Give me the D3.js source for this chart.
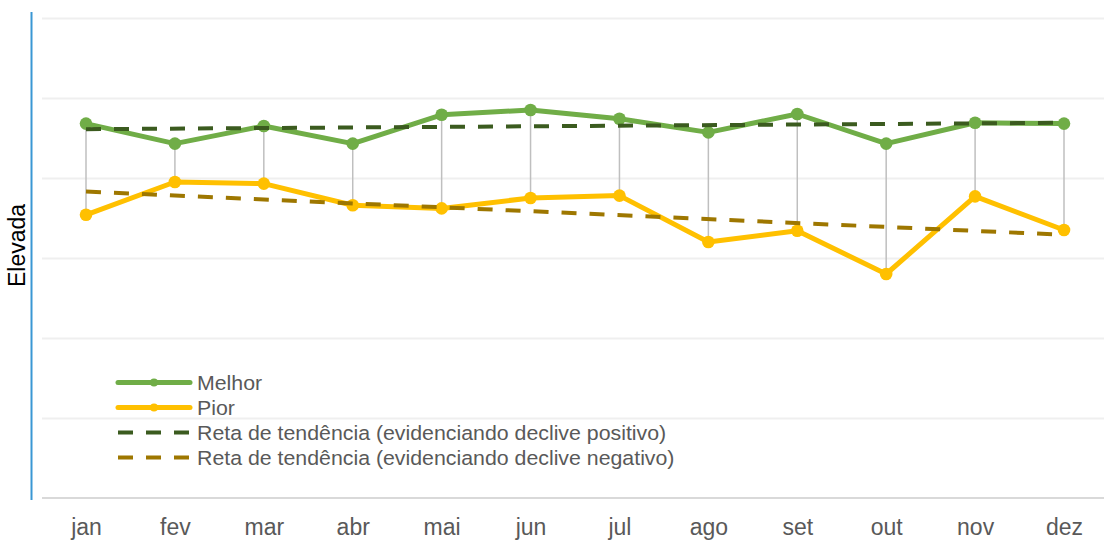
<!DOCTYPE html>
<html>
<head>
<meta charset="utf-8">
<script src="https://cdn.jsdelivr.net/npm/d3@7"></script>
<style>
  body { margin: 0; background: #fff; }
  svg { display: block; font-family: "Liberation Sans", Arial, sans-serif; }
</style>
</head>
<body>
<div id="chart"></div>
<script>
// months on the x axis
const months = ['jan', 'fev', 'mar', 'abr', 'mai', 'jun', 'jul', 'ago', 'set', 'out', 'nov', 'dez'];
// series values (axis has no numbers, 0..6 grid units)
const melhor = [4.68, 4.43, 4.65, 4.43, 4.79, 4.85, 4.74, 4.57, 4.80, 4.43, 4.69, 4.68];
const pior = [3.54, 3.95, 3.93, 3.66, 3.62, 3.75, 3.78, 3.20, 3.34, 2.80, 3.77, 3.35];
// trend line ends (jan, dez)
const trendMelhor = [4.61, 4.69];
const trendPior = [3.83, 3.29];
const gridTicks = [1, 2, 3, 4, 5, 6];
const legendItems = [
  { label: 'Melhor', kind: 'line', color: '#70ad47' },
  { label: 'Pior', kind: 'line', color: '#ffc000' },
  { label: 'Reta de tendência (evidenciando declive positivo)', kind: 'dash', color: '#3b5b1f' },
  { label: 'Reta de tendência (evidenciando declive negativo)', kind: 'dash', color: '#9e7700' },
];

const width = 1104;
const height = 540;

const svg = d3.select('#chart')
  .append('svg')
  .attr('width', width)
  .attr('height', height);

const xScale = d3.scalePoint().domain(months).range([86, 1064]);
const yScale = d3.scaleLinear().domain([0, 6]).range([498, 18]);

// gridlines
svg.append('g')
  .attr('transform', 'translate(42, 0)')
  .call(d3.axisLeft(yScale).tickValues(gridTicks).tickFormat('').tickSize(-(1104 - 42)))
  .call((g) => g.select('.domain').remove())
  .call((g) => g.selectAll('line').attr('stroke', '#efefef').attr('stroke-width', 2));

// bottom axis line + labels
svg.append('line')
  .attr('x1', 42).attr('x2', 1104)
  .attr('y1', yScale(0)).attr('y2', yScale(0))
  .attr('stroke', '#d9d9d9').attr('stroke-width', 2);

const xAxis = svg.append('g')
  .attr('transform', `translate(0, ${yScale(0)})`)
  .call(d3.axisBottom(xScale).tickSize(0));
xAxis.select('.domain').remove();
xAxis.selectAll('text')
  .attr('y', 36.5)
  .attr('dy', null)
  .attr('font-size', 23)
  .attr('font-family', '"Liberation Sans", Arial, sans-serif')
  .attr('fill', '#595959');

// y axis line (blue)
svg.append('line')
  .attr('x1', 31.5).attr('x2', 31.5)
  .attr('y1', 12).attr('y2', 500)
  .attr('stroke', '#3a97d4').attr('stroke-width', 2);

svg.append('text')
  .attr('transform', 'translate(25, 245.5) rotate(-90)')
  .attr('text-anchor', 'middle')
  .attr('font-size', 23)
  .attr('fill', '#000')
  .text('Elevada');

// drop lines between the two series
svg.append('g')
  .selectAll('line')
  .data(months)
  .join('line')
  .attr('x1', (d) => xScale(d)).attr('x2', (d) => xScale(d))
  .attr('y1', (d, i) => yScale(melhor[i]))
  .attr('y2', (d, i) => yScale(pior[i]))
  .attr('stroke', '#bfbfbf').attr('stroke-width', 1.5);

const line = d3.line()
  .x((d) => xScale(d[0]))
  .y((d) => yScale(d[1]));

function drawSeries(values, color) {
  const pts = months.map((m, i) => [m, values[i]]);
  svg.append('path')
    .datum(pts)
    .attr('d', line)
    .attr('fill', 'none')
    .attr('stroke', color)
    .attr('stroke-width', 5)
    .attr('stroke-linejoin', 'round');
  svg.append('g')
    .selectAll('circle')
    .data(pts)
    .join('circle')
    .attr('cx', (d) => xScale(d[0]))
    .attr('cy', (d) => yScale(d[1]))
    .attr('r', 6.3)
    .attr('fill', color);
}

drawSeries(melhor, '#70ad47');
drawSeries(pior, '#ffc000');

function drawTrend(ends, color) {
  svg.append('path')
    .datum([[months[0], ends[0]], [months[months.length - 1], ends[1]]])
    .attr('d', line)
    .attr('fill', 'none')
    .attr('stroke', color)
    .attr('stroke-width', 4)
    .attr('stroke-dasharray', '15,13');
}

drawTrend(trendMelhor, '#3b5b1f');
drawTrend(trendPior, '#9e7700');

// legend
const legend = svg.append('g').attr('class', 'legend');
const rows = legend.selectAll('g')
  .data(legendItems)
  .join('g')
  .attr('transform', (d, i) => `translate(118, ${382.5 + i * 25})`);

rows.append('line')
  .attr('x1', 0).attr('x2', 72)
  .attr('stroke', (d) => d.color)
  .attr('stroke-width', (d) => (d.kind === 'line' ? 5 : 4))
  .attr('stroke-linecap', (d) => (d.kind === 'line' ? 'round' : 'butt'))
  .attr('stroke-dasharray', (d) => (d.kind === 'line' ? null : '15,13'));

rows.filter((d) => d.kind === 'line')
  .append('circle')
  .attr('cx', 36)
  .attr('r', 4)
  .attr('fill', (d) => d.color);

rows.append('text')
  .attr('transform', 'translate(79, 0) scale(1.04,1)')
  .attr('dy', '0.36em')
  .attr('font-size', 20.5)
  .attr('fill', '#595959')
  .text((d) => d.label);
</script>
</body>
</html>
